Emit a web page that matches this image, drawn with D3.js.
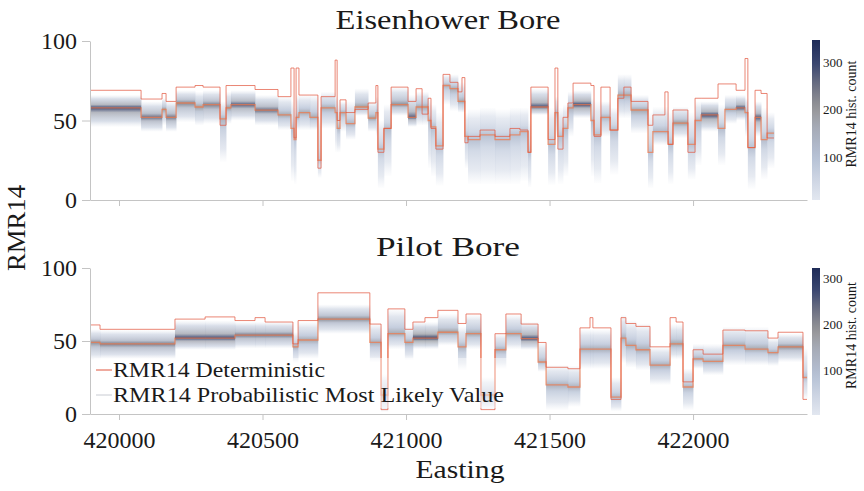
<!DOCTYPE html>
<html>
<head>
<meta charset="utf-8">
<script src="https://cdn.jsdelivr.net/npm/d3@7"></script>
<style>
body { margin: 0; background: #fff; }
</style>
</head>
<body>
<svg id="chart" width="864" height="491"></svg>
<script>
// ---- Eisenhower Bore: segment start eastings (last = end), RMR14 band per segment
var eisEast = [419902,420077,420150,420164,420199,420265,420293,420352,420373,420390,
  420474,420554,420599,420610,420617,420627,420665,420693,420704,420753,
  420760,420770,420791,420822,420868,420895,420902,420923,420948,421007,
  421035,421056,421077,421087,421104,421129,421153,421181,421195,421205,
  421216,421258,421310,421362,421397,421425,421435,421495,421519,421529,
  421547,421564,421582,421644,421655,421679,421711,421738,421759,421784,
  421843,421860,421902,421913,421930,421982,422007,422028,422087,422111,
  422150,422181,422191,422216,422237,422258,422282];
var eisMode = [58,52,57,52,61,58.5,60,51,58,60,
  56.5,53.5,45,38,52,55,52,25,58,55,
  45,55,48,58.5,51.5,55,32,45,60,52,
  58.5,58.5,50,46,34,72,70,62,62,40,
  38,41,38,41,43,30,58.5,35,55,40,
  45,58,60,50,41,52,44,66,66,56.6,
  30,43,43,35,48.4,35,50,53.5,45,57,
  58,55,33,52,38,42];
var eisLo = [46,43,47,43,49,47,48,24,48,50,
  47,44,12,10,44,44,44,14,45,30,
  30,43,38,53,43,40,7.5,15,53,46,
  47,47,20,15,9,60,56,55,55,20,
  10,10,10,10,12,8,53.5,9.5,40,10,
  15,40,51.5,15,10.5,40,16,51.5,51.5,42,
  7.5,34.6,34.6,10,39,13,22,43,22,48,
  50,40,7,40,13,20];
var eisHi = [66,62,64,62,69,68,69,62,68,69,
  66,65,62,58,66,66,66,55,68,65,
  62,62,62,70,62,65,50,60,71,66,
  68,68,63,60,55,79,79,74,74,55,
  57,58,57,58,58,50,70,58,65,58,
  60,68,69,64,62,62,58,79,79,66,
  55,58.5,58.5,55,58.5,55,62,62,60,66,
  66,64,55,62,58,55];
var eisDet = [69,63.5,67,62,71,72,71,47,72,72,
  69.5,65,83,39,83,66,66,20,65,88,
  50,63,55,57,61,72,30,45,71,62,
  70,54,64,45,32,79,74,68,77,36,
  40,44,40,45,44,30,71,38,83,32,
  52,61,73.5,72,40,71,44,64,71,62,
  47,53.5,68,35,56.6,30,64,64,73,73,
  69,89,33,69,67,39];
var eisPeak = [300,260,200,250,230,200,240,150,200,280,
  260,180,110,100,150,170,170,90,170,130,
  130,160,150,200,190,140,110,120,220,280,
  180,180,130,120,110,150,170,180,180,110,
  110,110,110,110,110,100,300,110,130,110,
  120,160,310,120,110,150,120,170,170,180,
  100,140,140,110,200,110,130,300,120,170,
  290,130,110,280,120,120];

// ---- Pilot Bore
var pilEast = [419902,419934,420195,420300,420404,420474,420509,420606,420624,420693,
  420874,420913,420937,420996,421024,421066,421111,421181,421209,421261,
  421310,421348,421401,421460,421488,421564,421606,421641,421651,421714,
  421749,421766,421801,421850,421920,421941,421965,422000,422035,422104,
  422181,422261,422296,422383,422397];
var pilMode = [49,48,52,52,54,54,54,46,50.7,65,
  49,13,55,49,52,52,56,46,55,13,
  44,55,51.6,35.6,20,18.5,44.5,44.5,44.5,11.6,
  52,47,44,33.5,48,48,18.5,37.7,36,47,
  44.5,42,46,25];
var pilLo = [37,37.7,44,44,45,45,45,35,38,55,
  35.6,1.4,44.5,37,44.5,44.5,47,30,44.5,3,
  31,44.5,44,29,2.7,5,31,31,31,2,
  35,32,30,20,37.7,37.7,2.7,31,26.7,33.5,
  33.5,33,35.6,10];
var pilHi = [58,57.5,64,64,63,63,63,56,63,75,
  62,27,72,59.6,63,63,68.5,60,68,25,
  55,68,63,49,33.5,33,58,58,58,25,
  68,64,62,46,61.6,61.6,31,48,48,59.6,
  59.6,52,55,45];
var pilDet = [61,58,65,66.5,64,66,63,48,64,83,
  61.6,3,72,58,63,66,71,62,68.5,3,
  55,68.5,61.6,49,32,31,59,66,59,10,
  66,62,60,46,66,63,22,44,41,57.5,
  57,52,56,10];
var pilPeak = [200,220,280,280,230,230,230,150,160,200,
  150,120,160,160,300,300,180,140,170,120,
  150,160,280,140,140,140,150,150,150,120,
  150,150,150,150,170,170,130,150,150,160,
  160,150,200,100];

var xTicks = [420000, 420500, 421000, 421500, 422000];
var yTicks = [0, 50, 100];
var cbTicks = [100, 200, 300];

var serif = "'Liberation Serif', 'DejaVu Serif', serif";
var svg = d3.select("#chart");
var defs = svg.append("defs");

var x = d3.scaleLinear().domain([419899, 422397]).range([90, 807]);

// colormap on normalised count
var cmap = d3.scaleLinear()
  .domain([0, 0.27, 0.45, 0.57, 0.72, 0.86, 1])
  .range(["#e2e7f0", "#b6c1d5", "#a6abb7", "#979799", "#6b6f82", "#37446f", "#1e2b58"]);

function drawPanel(p) {
  var y = d3.scaleLinear().domain([0, 100]).range([p.bottom, p.top]);
  var cnt = d3.scaleLinear().domain(p.cbDomain).range([0, 1]).clamp(true);
  var g = svg.append("g");

  // histogram band per segment
  var n = p.mode.length;
  for (var i = 0; i < n; i++) {
    var lo = p.lo[i], hi = p.hi[i], md = p.mode[i], pk = p.peak[i];
    var m = (hi - md) / (hi - lo);
    var c0 = p.cbDomain[0];
    var c = function(f) { return cmap(cnt(c0 + (pk - c0) * f)); };
    var gid = p.id + "g" + i;
    var grad = defs.append("linearGradient").attr("id", gid)
      .attr("x1", 0).attr("y1", 0).attr("x2", 0).attr("y2", 1);
    var stops = [
      [0, c(0.1), 0.05],
      [m * 0.3, c(0.3), 0.55],
      [m * 0.75, c(0.55), 0.8],
      [m, c(1), 0.95],
      [m + (1 - m) * 0.25, c(0.55), 0.8],
      [m + (1 - m) * 0.7, c(0.3), 0.55],
      [1, c(0.1), 0.05]
    ];
    stops.forEach(function(s) {
      grad.append("stop").attr("offset", s[0]).attr("stop-color", s[1]).attr("stop-opacity", s[2]);
    });
    g.append("rect")
      .attr("x", x(p.east[i]))
      .attr("width", x(p.east[i + 1]) - x(p.east[i]) + 0.4)
      .attr("y", y(hi))
      .attr("height", y(lo) - y(hi))
      .attr("fill", "url(#" + gid + ")");
  }

  function stepPts(vals) {
    var pts = vals.map(function(v, i) { return [p.east[i], v]; });
    pts.push([p.east[n], vals[n - 1]]);
    return pts;
  }
  var line = d3.line().x(function(d) { return x(d[0]); }).y(function(d) { return y(d[1]); })
    .curve(d3.curveStepAfter);

  g.append("path").attr("d", line(stepPts(p.mode)))
    .attr("fill", "none").attr("stroke", "#ee7c52").attr("stroke-width", 1.3).attr("stroke-opacity", 0.75);
  g.append("path").attr("d", line(stepPts(p.det)))
    .attr("fill", "none").attr("stroke", "#e2573f").attr("stroke-width", 0.8).attr("stroke-opacity", 0.9);

  // axes
  var ya = g.append("g").attr("transform", "translate(90,0)")
    .call(d3.axisLeft(y).tickValues(yTicks).tickSize(8).tickSizeOuter(0).tickPadding(5));
  var xa = g.append("g").attr("transform", "translate(0," + p.bottom + ")")
    .call(d3.axisBottom(x).tickValues(xTicks).tickSize(6).tickSizeOuter(0).tickPadding(11)
      .tickFormat(p.showX ? d3.format("d") : function() { return ""; }));
  [ya, xa].forEach(function(a) {
    a.attr("font-family", serif);
    a.select(".domain").attr("stroke", "#c4c4c4");
    a.selectAll(".tick line").attr("stroke", "#c4c4c4");
    a.selectAll("text").style("font-size", "24px").attr("fill", "#1a1a1a");
  });

  // title
  svg.append("text").attr("x", 448).attr("y", p.titleY).attr("text-anchor", "middle")
    .attr("textLength", p.titleW).attr("lengthAdjust", "spacingAndGlyphs")
    .style("font-size", "28px").text(p.title);

  // colorbar
  var cb = d3.scaleLinear().domain(p.cbDomain).range([p.cbBottom, p.cbTop]);
  var cbg = defs.append("linearGradient").attr("id", p.id + "cb")
    .attr("x1", 0).attr("y1", 1).attr("x2", 0).attr("y2", 0);
  d3.range(0, 1.001, 0.05).forEach(function(t) {
    cbg.append("stop").attr("offset", t).attr("stop-color", cmap(t));
  });
  svg.append("rect").attr("x", 812).attr("y", p.cbTop).attr("width", 8)
    .attr("height", p.cbBottom - p.cbTop).attr("fill", "url(#" + p.id + "cb)");
  var ca = svg.append("g").attr("transform", "translate(820,0)")
    .call(d3.axisRight(cb).tickValues(cbTicks).tickSize(0).tickPadding(3));
  ca.attr("font-family", serif);
  ca.select(".domain").remove();
  ca.selectAll("text").style("font-size", "13px").attr("fill", "#1a1a1a");
  svg.append("text")
    .attr("transform", "translate(856," + ((p.cbTop + p.cbBottom) / 2 - 6) + ") rotate(-90)")
    .attr("text-anchor", "middle").style("font-size", "14px").text("RMR14 hist. count");
}

drawPanel({ id: "eis", east: eisEast, mode: eisMode, lo: eisLo, hi: eisHi, det: eisDet, peak: eisPeak,
  top: 41, bottom: 200, title: "Eisenhower Bore", titleW: 225, titleY: 29, showX: false,
  cbDomain: [10, 346], cbTop: 40, cbBottom: 200 });
drawPanel({ id: "pil", east: pilEast, mode: pilMode, lo: pilLo, hi: pilHi, det: pilDet, peak: pilPeak,
  top: 268, bottom: 414, title: "Pilot Bore", titleW: 144, titleY: 256, showX: true,
  cbDomain: [2, 322], cbTop: 268, cbBottom: 415 });

// legend
var leg = svg.append("g");
leg.append("rect").attr("x", 94).attr("y", 358).attr("width", 414).attr("height", 50)
  .attr("fill", "#fff").attr("fill-opacity", 0.45);
leg.append("line").attr("x1", 96).attr("x2", 112).attr("y1", 370).attr("y2", 370)
  .attr("stroke", "#e0573f").attr("stroke-width", 1);
leg.append("line").attr("x1", 96).attr("x2", 112).attr("y1", 395).attr("y2", 395)
  .attr("stroke", "#c8cbd2").attr("stroke-width", 1);
leg.append("text").attr("x", 113).attr("y", 377).style("font-size", "22px")
  .attr("textLength", 212).attr("lengthAdjust", "spacingAndGlyphs").text("RMR14 Deterministic");
leg.append("text").attr("x", 113).attr("y", 402).style("font-size", "22px")
  .attr("textLength", 391).attr("lengthAdjust", "spacingAndGlyphs").text("RMR14 Probabilistic Most Likely Value");

// axis titles
svg.append("text").attr("x", 460).attr("y", 478).attr("text-anchor", "middle")
  .style("font-size", "26px").attr("textLength", 89).attr("lengthAdjust", "spacingAndGlyphs").text("Easting");
svg.append("text").attr("transform", "translate(25,228) rotate(-90)").attr("text-anchor", "middle")
  .style("font-size", "26px").attr("textLength", 86).attr("lengthAdjust", "spacingAndGlyphs").text("RMR14");

// serif everywhere, like the LaTeX figure
svg.selectAll("text").style("font-family", serif).style("fill", "#1a1a1a");
</script>
</body>
</html>
